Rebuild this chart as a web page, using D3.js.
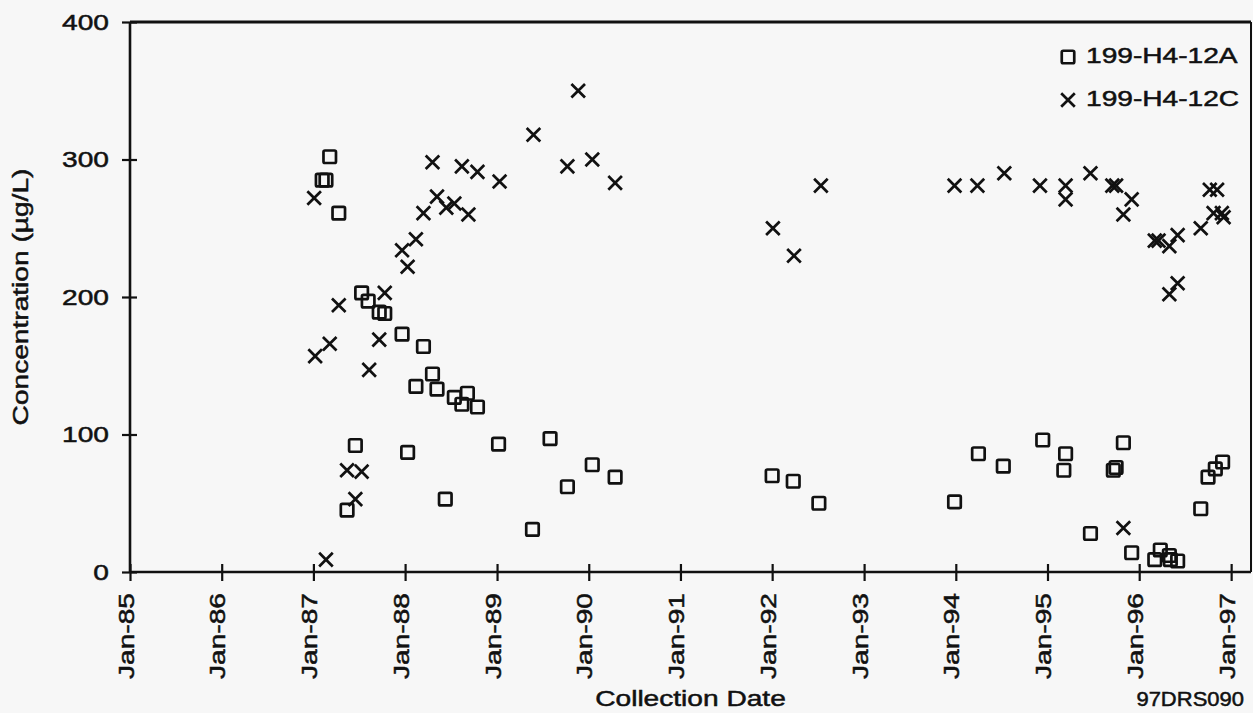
<!DOCTYPE html>
<html>
<head>
  <meta charset="utf-8">
  <title>199-H4-12A / 12C concentration</title>
  <style>
    body {
      margin: 0;
      background: #f7f7f7;
    }
    svg {
      display: block;
      font-family: "Liberation Sans", Arial, Helvetica, sans-serif;
    }
    text {
      fill: #111;
      stroke: #111;
      stroke-width: 0.5px;
    }
  </style>
</head>
<body>
  <svg id="chart"></svg>
  <script src="https://cdn.jsdelivr.net/npm/d3@7"></script>
  <script>
    // 199-H4-12A (squares)
    var datesA = ["1987-02-05", "1987-02-20", "1987-03-07", "1987-04-12", "1987-05-15", "1987-06-17",
      "1987-07-12", "1987-08-07", "1987-09-20", "1987-10-12", "1987-12-20", "1988-01-11", "1988-02-13",
      "1988-03-14", "1988-04-19", "1988-05-07", "1988-06-09", "1988-07-15", "1988-08-14", "1988-09-05",
      "1988-10-15", "1989-01-07", "1989-05-22", "1989-07-31", "1989-10-08", "1990-01-15", "1990-04-16",
      "1992-01-01", "1992-03-25", "1992-07-05", "1993-12-27", "1994-04-01", "1994-07-09", "1994-12-13",
      "1995-03-07", "1995-03-14", "1995-06-21", "1995-09-20", "1995-10-01", "1995-10-30", "1995-12-02",
      "1996-03-03", "1996-03-25", "1996-04-30", "1996-05-04", "1996-06-02", "1996-09-02", "1996-10-01",
      "1996-10-30", "1996-11-28"];
    var valuesA = [285, 285, 302, 261, 45, 92,
      203, 197, 189, 188, 173, 87, 135,
      164, 144, 133, 53, 127, 122, 130,
      120, 93, 31, 97, 62, 78, 69,
      70, 66, 50, 51, 86, 77, 96,
      74, 86, 28, 74, 76, 94, 14,
      9, 16, 12, 9, 8, 46, 69,
      75, 80];

    // 199-H4-12C (crosses)
    var datesC = ["1987-01-04", "1987-01-08", "1987-02-20", "1987-03-07", "1987-04-12", "1987-05-15",
      "1987-06-17", "1987-07-12", "1987-08-11", "1987-09-20", "1987-10-12", "1987-12-20", "1988-01-11",
      "1988-02-13", "1988-03-14", "1988-04-19", "1988-05-07", "1988-06-13", "1988-07-15", "1988-08-14",
      "1988-09-09", "1988-10-15", "1989-01-11", "1989-05-26", "1989-11-20", "1989-10-08", "1990-01-15",
      "1990-04-16", "1992-01-04", "1992-03-28", "1992-07-13", "1993-12-27", "1994-03-28", "1994-07-13",
      "1994-12-02", "1995-03-14", "1995-03-14", "1995-06-21", "1995-09-16", "1995-10-01", "1995-10-30",
      "1995-10-30", "1995-12-02", "1996-03-03", "1996-03-18", "1996-04-30", "1996-04-30", "1996-06-02",
      "1996-06-02", "1996-09-02", "1996-10-08", "1996-11-06", "1996-10-23", "1996-11-25", "1996-12-02"];
    var valuesC = [272, 157, 9, 166, 194, 74,
      53, 73, 147, 169, 203, 234, 222,
      242, 261, 298, 273, 265, 268, 295,
      260, 291, 284, 318, 350, 295, 300,
      283, 250, 230, 281, 281, 281, 290,
      281, 281, 271, 290, 281, 281, 260,
      32, 271, 241, 241, 237, 202, 245,
      210, 250, 278, 278, 261, 261, 258];

    var yTicks = [0, 100, 200, 300, 400];
    var xTickYears = d3.range(1985, 1998);
    var seriesNames = ["199-H4-12A", "199-H4-12C"];

    var width = 1253, height = 713;
    var plot = { left: 130, right: 1251, top: 22, bottom: 572 };
    var fontSize = 22.5, stretch = 1.25;

    var svg = d3.select("#chart").attr("width", width).attr("height", height);

    var parse = d3.timeParse("%Y-%m-%d");
    var dataA = datesA.map(function (d, i) { return { date: parse(d), value: valuesA[i] }; });
    var dataC = datesC.map(function (d, i) { return { date: parse(d), value: valuesC[i] }; });

    var xScale = d3.scaleTime()
      .domain([new Date(1985, 0, 1), new Date(1997, 2, 21)])
      .range([plot.left, plot.right]);
    var yScale = d3.scaleLinear()
      .domain([0, 400])
      .range([plot.bottom, plot.top]);

    // 坐标轴
    var xAxis = d3.axisBottom(xScale)
      .tickValues(xTickYears.map(function (y) { return new Date(y, 0, 1); }))
      .tickFormat(d3.timeFormat("Jan-%y"))
      .tickSizeOuter(0);
    var gx = svg.append("g")
      .attr("transform", "translate(0," + plot.bottom + ")")
      .call(xAxis);
    gx.select(".domain").remove();
    gx.selectAll(".tick line").attr("y1", -8).attr("y2", 9)
      .attr("stroke", "#111").attr("stroke-width", 2.2);
    gx.selectAll(".tick text")
      .attr("x", null).attr("y", null).attr("dy", null)
      .attr("text-anchor", "end")
      .attr("font-size", fontSize)
      .attr("fill", "#111")
      .attr("transform", "translate(3,21) rotate(-90) scale(" + stretch + ",1)");

    var yAxis = d3.axisLeft(yScale)
      .tickValues(yTicks)
      .tickSizeOuter(0);
    var gy = svg.append("g")
      .attr("transform", "translate(" + plot.left + ",0)")
      .call(yAxis);
    gy.select(".domain").remove();
    gy.selectAll(".tick line").attr("x1", -8).attr("x2", 7)
      .attr("stroke", "#111").attr("stroke-width", 2.2);
    gy.selectAll(".tick text")
      .attr("x", null)
      .attr("dy", "0.32em")
      .attr("text-anchor", "end")
      .attr("font-size", fontSize)
      .attr("fill", "#111")
      .attr("transform", "translate(-21,0) scale(" + stretch + ",1)");

    // 边框
    var frame = svg.append("g").attr("stroke", "#111").attr("fill", "none");
    frame.append("line").attr("x1", plot.left).attr("x2", plot.right)
      .attr("y1", plot.top).attr("y2", plot.top).attr("stroke-width", 3);
    frame.append("line").attr("x1", plot.left).attr("x2", plot.right)
      .attr("y1", plot.bottom).attr("y2", plot.bottom).attr("stroke-width", 2.6);
    frame.append("line").attr("x1", plot.left).attr("x2", plot.left)
      .attr("y1", plot.top).attr("y2", plot.bottom).attr("stroke-width", 2.6);
    frame.append("line").attr("x1", plot.right).attr("x2", plot.right)
      .attr("y1", plot.top).attr("y2", plot.bottom).attr("stroke-width", 2);

    // 标记
    var sq = 12.5, cr = 6.8;
    function drawSquare(g) {
      g.append("rect")
        .attr("x", -sq / 2).attr("y", -sq / 2)
        .attr("width", sq).attr("height", sq)
        .attr("rx", 1.5)
        .attr("fill", "none").attr("stroke", "#111").attr("stroke-width", 2.7);
    }
    function drawCross(g) {
      g.append("path")
        .attr("d", "M" + -cr + "," + -cr + "L" + cr + "," + cr + "M" + -cr + "," + cr + "L" + cr + "," + -cr)
        .attr("fill", "none").attr("stroke", "#111").attr("stroke-width", 2.7);
    }

    svg.append("g").selectAll("g")
      .data(dataA)
      .join("g")
      .attr("transform", function (d) { return "translate(" + xScale(d.date) + "," + yScale(d.value) + ")"; })
      .each(function () { drawSquare(d3.select(this)); });

    svg.append("g").selectAll("g")
      .data(dataC)
      .join("g")
      .attr("transform", function (d) { return "translate(" + xScale(d.date) + "," + yScale(d.value) + ")"; })
      .each(function () { drawCross(d3.select(this)); });

    // 图例
    var legend = svg.append("g");
    var legendRows = [{ name: seriesNames[0], y: 57, draw: drawSquare }, { name: seriesNames[1], y: 100, draw: drawCross }];
    legendRows.forEach(function (r) {
      var g = legend.append("g").attr("transform", "translate(1068," + r.y + ")");
      r.draw(g);
      g.append("text")
        .attr("font-size", fontSize)
        .attr("transform", "translate(18,6) scale(" + stretch + ",1)")
        .text(r.name);
    });

    // 标题
    svg.append("text")
      .attr("text-anchor", "middle")
      .attr("font-size", fontSize)
      .attr("transform", "translate(" + (plot.left + plot.right) / 2 + ",706) scale(" + stretch + ",1)")
      .text("Collection Date");

    svg.append("text")
      .attr("text-anchor", "middle")
      .attr("font-size", fontSize)
      .attr("transform", "translate(28," + (plot.top + plot.bottom) / 2 + ") rotate(-90) scale(" + stretch + ",1)")
      .text("Concentration (µg/L)");

    svg.append("text")
      .attr("text-anchor", "end")
      .attr("font-size", 20)
      .attr("transform", "translate(1244,706) scale(1.1,1)")
      .text("97DRS090");
  </script>
</body>
</html>
